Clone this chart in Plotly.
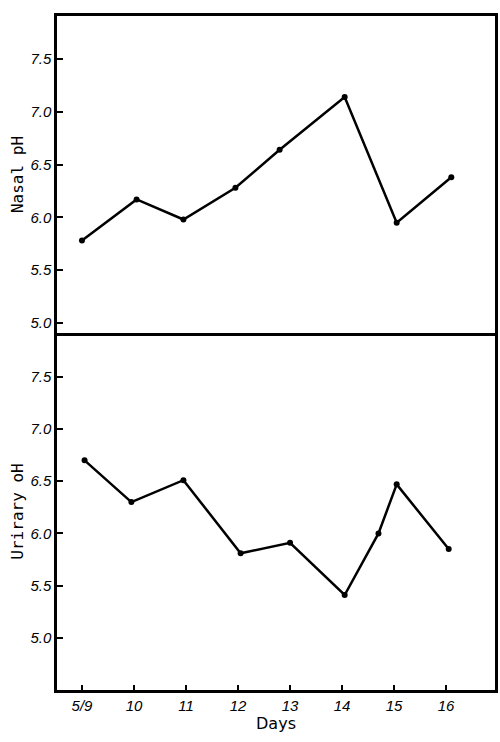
import plotly.graph_objects as go

# ---- data ----
day_ticks = [9, 10, 11, 12, 13, 14, 15, 16]
day_labels = ["5/9", "10", "11", "12", "13", "14", "15", "16"]
ph_ticks = [5.0, 5.5, 6.0, 6.5, 7.0, 7.5]
ph_labels = ["5.0", "5.5", "6.0", "6.5", "7.0", "7.5"]

nasal_days = [9.0, 10.05, 10.95, 11.95, 12.8, 14.05, 15.05, 16.1]
nasal_ph = [5.78, 6.17, 5.98, 6.28, 6.64, 7.14, 5.95, 6.38]

urine_days = [9.05, 9.95, 10.95, 12.05, 13.0, 14.05, 14.7, 15.05, 16.05]
urine_ph = [6.70, 6.30, 6.51, 5.81, 5.91, 5.41, 6.00, 6.47, 5.85]

fig = go.Figure()
line_style = dict(color="black", width=2.5)
marker_style = dict(color="black", size=6)

fig.add_trace(go.Scatter(x=nasal_days, y=nasal_ph, mode="lines+markers",
                         line=line_style, marker=marker_style,
                         xaxis="x", yaxis="y", showlegend=False))
fig.add_trace(go.Scatter(x=urine_days, y=urine_ph, mode="lines+markers",
                         line=line_style, marker=marker_style,
                         xaxis="x2", yaxis="y2", showlegend=False))

tick_font = dict(family="Liberation Sans", size=15, color="black", style="italic")
title_font = dict(family="DejaVu Sans Mono", size=16, color="black")

split = 357 / 674
xr = [8.52, 16.94]

base_axis = dict(showline=True, linecolor="black", linewidth=2.5,
                 showgrid=False, zeroline=False, ticks="inside",
                 tickcolor="black", tickwidth=1.5)

fig.update_layout(
    width=500, height=742,
    margin=dict(l=57, r=2, t=16, b=52),
    paper_bgcolor="white", plot_bgcolor="white",
    xaxis=dict(domain=[0, 1], anchor="y", range=xr, showticklabels=False,
               tickvals=day_ticks, ticklen=0, mirror=True, **base_axis),
    yaxis=dict(domain=[split, 1], anchor="x", range=[4.905, 7.907],
               tickvals=ph_ticks, ticktext=ph_labels, ticklen=6,
               tickfont=tick_font, mirror=True,
               title=dict(text="Nasal pH", font=title_font, standoff=3),
               **base_axis),
    xaxis2=dict(domain=[0, 1], anchor="y2", range=xr,
                tickvals=day_ticks, ticktext=day_labels, ticklen=5,
                tickfont=tick_font, mirror=False,
                title=dict(text="Days", font=dict(family="DejaVu Sans", size=16, color="black"),
                           standoff=2),
                **base_axis),
    yaxis2=dict(domain=[0, split], anchor="x2", range=[4.50, 7.92],
                tickvals=ph_ticks, ticktext=ph_labels, ticklen=6,
                tickfont=tick_font, mirror=True,
                title=dict(text="Urirary oH", font=title_font, standoff=3),
                **base_axis),
)

fig.write_html("out.html")
